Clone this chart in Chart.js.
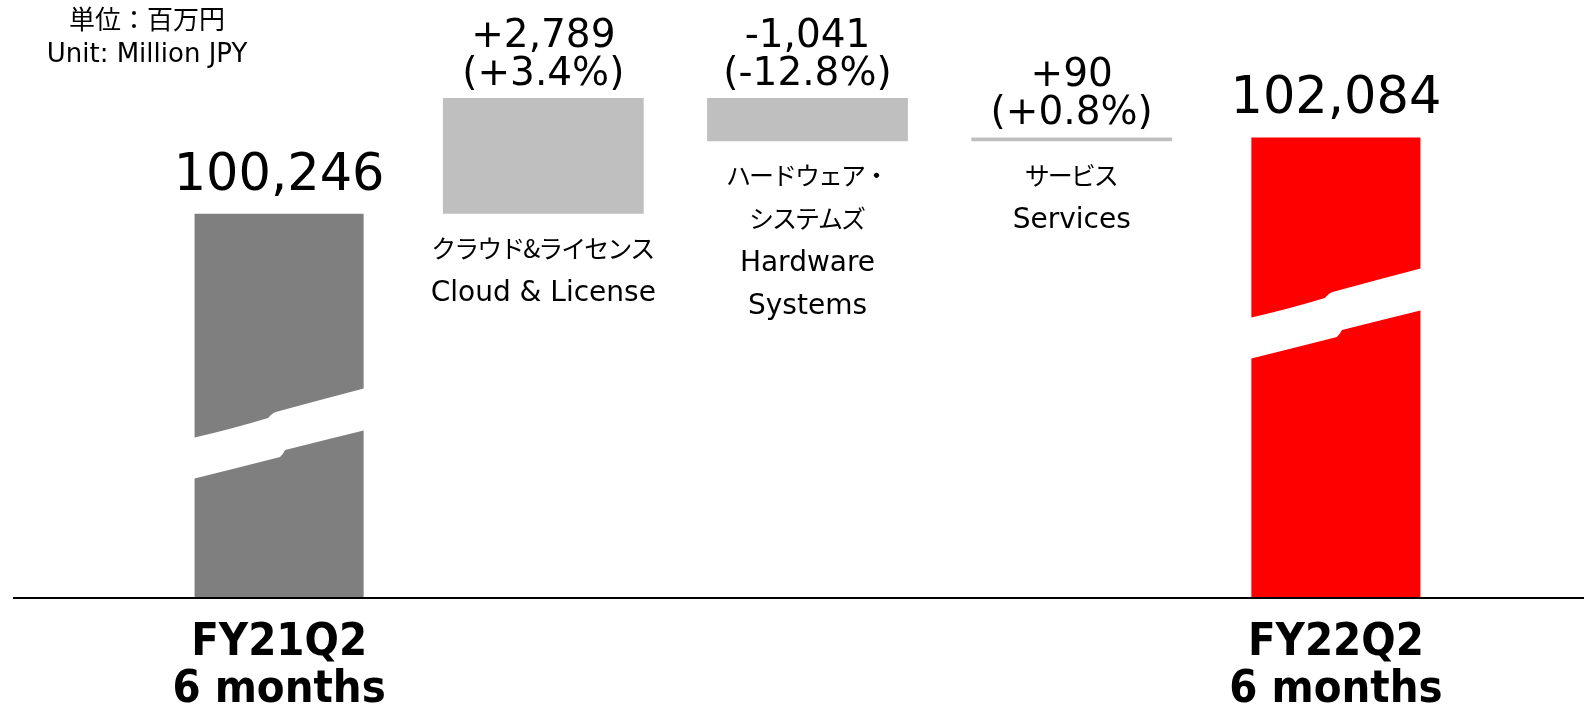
<!DOCTYPE html>
<html>
<head>
<meta charset="utf-8">
<title>FY22Q2 6 months</title>
<script src="https://cdn.jsdelivr.net/npm/chart.js@4/dist/chart.umd.min.js"></script>
<style>
  html, body { margin: 0; padding: 0; background: #fff; }
  #chart_wrapper { width: 1584px; height: 707px; position: relative; }
</style>
</head>
<body>
<div id="chart_wrapper"><canvas id="chart"></canvas></div>
<script>
/*global Chart*/

// data (million JPY)
var categories = ["FY21Q2", "Cloud & License", "Hardware Systems", "Services", "FY22Q2"];
var tickLabels = [["FY21Q2", "6 months"], "", "", "", ["FY22Q2", "6 months"]];
var totals = [100246, null, null, null, 102084];
var changes = [null, 2789, -1041, 90, null];
var changePct = [null, 3.4, -12.8, 0.8, null];
var namesJa = [null, ["クラウド&ライセンス"], ["ハードウェア・", "システムズ"], ["サービス"], null];
var namesEn = [null, ["Cloud & License"], ["Hardware", "Systems"], ["Services"], null];

var LATIN = "'DejaVu Sans', 'Noto Sans CJK JP', sans-serif";
var CJK = "'Noto Sans CJK JP', 'DejaVu Sans', sans-serif";
var BOLD = "'DejaVu Sans Condensed', 'Liberation Sans', sans-serif";
var totalColors = ["#7f7f7f", null, null, null, "#ff0000"];
var breakAboveBase = [160, null, null, null, 280];

// floating bars for the bridge
var running = totals[0];
var floating = changes.map(function (c) {
    if (c === null) { return null; }
    var from = running;
    running += c;
    return [from, running];
});

function signed(v, digits) {
    var s = Math.abs(v).toLocaleString("en-US", {minimumFractionDigits: digits, maximumFractionDigits: digits});
    return (v < 0 ? "-" : "+") + s;
}

function drawBreak(ctx, L, W, y0) {
    ctx.beginPath();
    ctx.moveTo(L - 2, y0 + 1);
    ctx.quadraticCurveTo(L + 0.22 * W, y0 - 8, L + 0.435 * W, y0 - 19);
    ctx.quadraticCurveTo(L + 0.46 * W, y0 - 24, L + 0.48 * W, y0 - 25);
    ctx.quadraticCurveTo(L + 0.74 * W, y0 - 37, L + W + 2, y0 - 49);
    ctx.lineTo(L + W + 2, y0 - 7);
    ctx.quadraticCurveTo(L + 0.77 * W, y0 + 3, L + 0.536 * W, y0 + 13);
    ctx.quadraticCurveTo(L + 0.52 * W, y0 + 18, L + 0.506 * W, y0 + 20);
    ctx.quadraticCurveTo(L + 0.25 * W, y0 + 31, L - 2, y0 + 42);
    ctx.closePath();
    ctx.fillStyle = "#ffffff";
    ctx.fill();
}

var bridgePlugin = {
    id: "bridge",
    afterDatasetsDraw: function (chart) {
        var ctx = chart.ctx,
            area = chart.chartArea,
            totMeta = chart.getDatasetMeta(0),
            chgMeta = chart.getDatasetMeta(1);
        ctx.save();

        // axis breaks on the total bars
        totMeta.data.forEach(function (bar, i) {
            if (totals[i] === null) { return; }
            drawBreak(ctx, bar.x - bar.width / 2, bar.width, area.bottom - breakAboveBase[i]);
        });

        // baseline
        ctx.strokeStyle = "#000";
        ctx.lineWidth = 2;
        ctx.beginPath();
        ctx.moveTo(13, area.bottom + 1);
        ctx.lineTo(1584, area.bottom + 1);
        ctx.stroke();

        ctx.fillStyle = "#000";
        ctx.textAlign = "center";
        ctx.textBaseline = "alphabetic";

        // total values
        ctx.font = "51px " + LATIN;
        totMeta.data.forEach(function (bar, i) {
            if (totals[i] === null) { return; }
            ctx.fillText(totals[i].toLocaleString("en-US"), bar.x, bar.y - 24);
        });

        // change values and segment names
        chgMeta.data.forEach(function (bar, i) {
            if (changes[i] === null) { return; }
            var top = Math.min(bar.y, bar.base),
                bottom = Math.max(bar.y, bar.base),
                y = bottom + 44;
            ctx.letterSpacing = "0px";
            ctx.font = "39px " + LATIN;
            ctx.fillText(signed(changes[i], 0), bar.x, top - 51);
            ctx.fillText("(" + signed(changePct[i], 1) + "%)", bar.x, top - 13);
            ctx.font = "25px " + CJK;
            ctx.letterSpacing = "-2px";
            namesJa[i].forEach(function (t) {
                ctx.fillText(t, bar.x - 1, y);
                y += 43;
            });
            ctx.letterSpacing = "0px";
            ctx.font = "28px " + LATIN;
            namesEn[i].forEach(function (t) {
                ctx.fillText(t, bar.x, y);
                y += 43;
            });
        });

        // unit note
        ctx.font = "26px " + CJK;
        ctx.fillText("単位：百万円", 147, 29);
        ctx.font = "26px " + LATIN;
        ctx.fillText("Unit: Million JPY", 147, 62);
        ctx.restore();
    }
};

var chartData = {
    labels: tickLabels,
    datasets: [
        {
            label: "Total",
            data: totals,
            backgroundColor: totalColors,
            grouped: false,
            barPercentage: 0.64,
            categoryPercentage: 1
        }, {
            label: "Change",
            data: floating,
            backgroundColor: "#bfbfbf",
            grouped: false,
            barPercentage: 0.76,
            categoryPercentage: 1
        }
    ]
};

var options = {
    responsive: true,
    maintainAspectRatio: false,
    animation: false,
    layout: { padding: { left: 147, right: 116, top: 0, bottom: 0 } },
    plugins: { legend: { display: false }, tooltip: { enabled: false } },
    scales: {
        x: {
            grid: { display: false },
            border: { display: false },
            afterFit: function (axis) { axis.height = 110; },
            ticks: {
                color: "#000",
                padding: 15,
                maxRotation: 0,
                autoSkip: false,
                font: { family: BOLD, size: 45, weight: "bold", lineHeight: 1.044 }
            }
        },
        y: {
            display: false,
            min: 91000,
            max: 105400
        }
    }
};

var ctx = document.getElementById("chart").getContext("2d");
var bridgeChart = new Chart(ctx, { type: "bar", data: chartData, options: options, plugins: [bridgePlugin] });
</script>
</body>
</html>
